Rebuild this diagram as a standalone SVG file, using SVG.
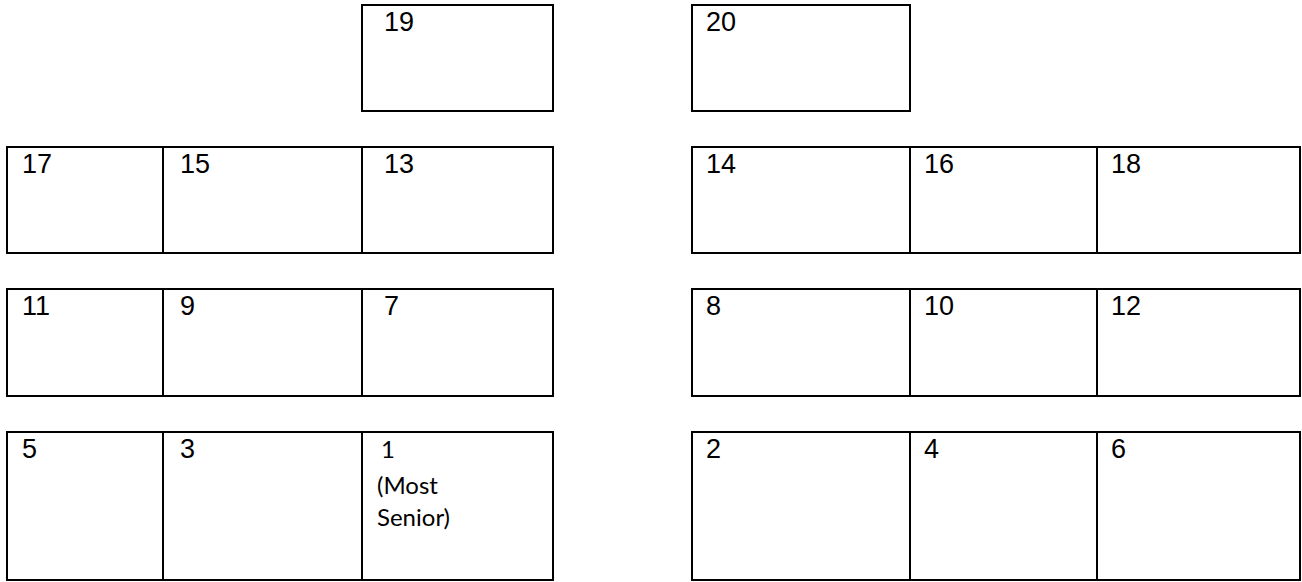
<svg xmlns="http://www.w3.org/2000/svg" width="1302" height="582" viewBox="0 0 1302 582">
<style>
rect{fill:#fff;stroke:#000;stroke-width:2}
text{font-family:"Liberation Sans",Arial,sans-serif;font-size:27px;fill:#000}
text.c{font-family:Lato,"Open Sans",sans-serif;font-size:24px}
</style>
<rect x="0" y="0" width="1302" height="582" style="stroke:none"/>
<g id="s19"><rect x="362" y="5" width="191" height="106"/><text x="384" y="31">19</text></g>
<g id="s20"><rect x="692" y="5" width="218" height="106"/><text x="706" y="31">20</text></g>
<g id="s17"><rect x="7" y="147" width="156" height="106"/><text x="22" y="173">17</text></g>
<g id="s15"><rect x="163" y="147" width="199" height="106"/><text x="180" y="173">15</text></g>
<g id="s13"><rect x="362" y="147" width="191" height="106"/><text x="384" y="173">13</text></g>
<g id="s14"><rect x="692" y="147" width="218" height="106"/><text x="706" y="173">14</text></g>
<g id="s16"><rect x="910" y="147" width="187" height="106"/><text x="924" y="173">16</text></g>
<g id="s18"><rect x="1097" y="147" width="203" height="106"/><text x="1111" y="173">18</text></g>
<g id="s11"><rect x="7" y="289" width="156" height="107"/><text x="22" y="315">11</text></g>
<g id="s9"><rect x="163" y="289" width="199" height="107"/><text x="180" y="315">9</text></g>
<g id="s7"><rect x="362" y="289" width="191" height="107"/><text x="384" y="315">7</text></g>
<g id="s8"><rect x="692" y="289" width="218" height="107"/><text x="706" y="315">8</text></g>
<g id="s10"><rect x="910" y="289" width="187" height="107"/><text x="924" y="315">10</text></g>
<g id="s12"><rect x="1097" y="289" width="203" height="107"/><text x="1111" y="315">12</text></g>
<g id="s5"><rect x="7" y="432" width="156" height="148"/><text x="22" y="458">5</text></g>
<g id="s3"><rect x="163" y="432" width="199" height="148"/><text x="180" y="458">3</text></g>
<g id="s1"><rect x="362" y="432" width="191" height="148"/><text class="c" x="381" y="458">1</text><text class="c" x="377" y="494">(Most</text><text class="c" x="377" y="526">Senior)</text></g>
<g id="s2"><rect x="692" y="432" width="218" height="148"/><text x="706" y="458">2</text></g>
<g id="s4"><rect x="910" y="432" width="187" height="148"/><text x="924" y="458">4</text></g>
<g id="s6"><rect x="1097" y="432" width="203" height="148"/><text x="1111" y="458">6</text></g>
<g id="connectors"></g>
</svg>
